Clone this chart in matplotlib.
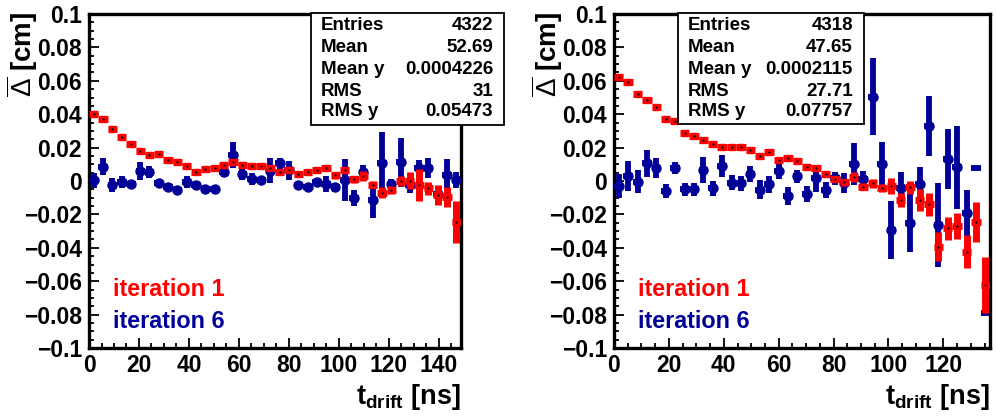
import numpy as np
import matplotlib
matplotlib.use('Agg')
import matplotlib.pyplot as plt
from matplotlib.patches import Rectangle
from matplotlib.ticker import MultipleLocator, FuncFormatter

plt.rcParams['font.family'] = ['Liberation Sans', 'DejaVu Sans']
plt.rcParams['mathtext.fontset'] = 'custom'
plt.rcParams['mathtext.rm'] = 'Liberation Sans'
plt.rcParams['mathtext.bf'] = 'Liberation Sans:bold'
plt.rcParams['mathtext.it'] = 'Liberation Sans:italic'

# --- data (40 bins per panel) ---
left_tmax = 148.8
right_tmax = 137.0
nbins = 40

left_iter1 = [0.0401, 0.0371, 0.0311, 0.0265, 0.0223, 0.0181, 0.0157, 0.0163, 0.0124, 0.0112,
              0.0092, 0.0052, 0.0072, 0.0076, 0.0098, 0.0114, 0.0094, 0.0092, 0.0088, 0.0075,
              0.0056, 0.0063, 0.0043, 0.0053, 0.0063, 0.0076, 0.0034, 0.0066, 0.0010, 0.0030,
              -0.0022, -0.0070, -0.0054, 0.0002, 0.0002, -0.0022, -0.0044, -0.0084, -0.0098, -0.0245]
left_iter1_err = [0.0012]*26 + [0.002, 0.002, 0.002, 0.003, 0.002, 0.0033, 0.0025, 0.003,
                                0.005, 0.0095, 0.004, 0.006, 0.006, 0.0125]
left_iter6 = [0.0004, 0.0086, -0.0024, -0.0008, -0.0016, 0.0058, 0.0052, -0.0010, -0.0036, -0.0054,
              -0.0008, -0.0024, -0.0046, -0.0046, 0.0056, 0.0156, 0.0040, 0.0012, 0.0006, 0.0062,
              0.0105, 0.0063, -0.0024, -0.0037, -0.0005, -0.0018, -0.0038, 0.0006, -0.0104, 0.0056,
              -0.0114, 0.0106, -0.0018, 0.0112, -0.0024, 0.0076, 0.0076, -0.0080, 0.0036, 0.0006]
left_iter6_err = [0.0045, 0.005, 0.0043, 0.0035, 0.002, 0.0055, 0.0035, 0.002, 0.0025, 0.0025,
                  0.0035, 0.0025, 0.0025, 0.0025, 0.0035, 0.008, 0.0035, 0.0035, 0.002, 0.0075,
                  0.0035, 0.0057, 0.002, 0.0025, 0.002, 0.0047, 0.0025, 0.0125, 0.0048, 0.004,
                  0.0105, 0.0185, 0.003, 0.0147, 0.005, 0.005, 0.006, 0.005, 0.0095, 0.005]

right_iter1 = [0.0625, 0.0591, 0.0521, 0.0485, 0.0445, 0.0373, 0.0359, 0.0289, 0.0269, 0.0247,
               0.0223, 0.0202, 0.0202, 0.0202, 0.0186, 0.0150, 0.0176, 0.0125, 0.0137, 0.0117,
               0.0086, 0.0076, 0.0044, 0.0012, -0.0008, 0.0026, -0.0034, -0.0014, -0.0040, -0.0030,
               -0.0114, -0.0038, -0.0114, -0.0140, -0.0393, -0.0283, -0.0270, -0.0423, -0.0244, -0.0623]
right_iter1_err = [0.0012]*23 + [0.002, 0.002, 0.003, 0.002, 0.0025, 0.0025, 0.0045, 0.004,
                                 0.004, 0.0065, 0.007, 0.0085, 0.007, 0.008, 0.01, 0.012, 0.017]
right_iter6 = [-0.0030, 0.0030, -0.0004, 0.0106, 0.0076, -0.0060, 0.0076, -0.0050, -0.0050, 0.0066,
               -0.0044, 0.0090, -0.0010, -0.0014, 0.0042, -0.0052, -0.0019, 0.0059, -0.0090, 0.0028,
               -0.0078, 0.0016, -0.0054, 0.0016, -0.0010, 0.0102, 0.0012, 0.0505, 0.0102, -0.0293,
               -0.0044, -0.0250, -0.0018, 0.0331, -0.0263, 0.0130, 0.0082, -0.0190, 0.0080, -0.0789]
right_iter6_err = [0.007, 0.009, 0.0068, 0.0082, 0.006, 0.0043, 0.0035, 0.004, 0.004, 0.0076,
                   0.0045, 0.0067, 0.0045, 0.0045, 0.005, 0.0055, 0.005, 0.0045, 0.0055, 0.004,
                   0.005, 0.008, 0.005, 0.004, 0.006, 0.0125, 0.005, 0.023, 0.0133, 0.0173,
                   0.01, 0.0177, 0.01, 0.018, 0.025, 0.018, 0.0247, 0.0137, 0.0, 0.0]

stat_names = ['Entries', 'Mean', 'Mean y', 'RMS', 'RMS y']
left_stats = ['4322', '52.69', '0.0004226', '31', '0.05473']
right_stats = ['4318', '47.65', '0.0002115', '27.71', '0.07757']

RED = '#ff0000'
BLUE = '#000099'
W, H = 998, 417

fig = plt.figure(figsize=(9.98, 4.17), dpi=100)


def fy(py):
    return 1 - py / H


def ylab(v, pos):
    if abs(v) < 1e-9:
        return '0'
    return ('%g' % round(v, 3)).replace('-', '\u2212')


def panel(left_px, right_px, tmax, y1, e1, y6, e6, xticks_max, stats, box, off):
    ax = fig.add_axes([left_px / W, fy(348), (right_px - left_px) / W, (348 - 14) / H])
    edges = np.linspace(0, tmax, nbins + 1)
    xc = 0.5 * (edges[1:] + edges[:-1])
    hw = 0.5 * (edges[1] - edges[0])
    y6 = np.array(y6)
    e6 = np.array(e6)
    ax.errorbar(xc, y6, xerr=hw, yerr=e6, fmt='none', ecolor=BLUE, elinewidth=4.2,
                capsize=0, zorder=3)
    has_err = e6 > 0
    ax.plot(xc[has_err], y6[has_err], 'o', color=BLUE, ms=6.5, zorder=3)
    ax.errorbar(xc, y1, xerr=hw, yerr=e1, fmt='none', ecolor=RED, elinewidth=5,
                capsize=0, zorder=4)
    ax.plot(xc, y1, 's', color=RED, ms=4.5, zorder=5)
    ax.plot(xc, y1, '.', color='k', ms=1.2, zorder=6)

    ax.set_xlim(0, tmax)
    ax.set_ylim(-0.1, 0.1)
    ax.set_xticks(np.arange(0, xticks_max + 1, 20))
    ax.xaxis.set_minor_locator(MultipleLocator(5))
    ax.yaxis.set_major_locator(MultipleLocator(0.02))
    ax.yaxis.set_minor_locator(MultipleLocator(0.005))
    ax.yaxis.set_major_formatter(FuncFormatter(ylab))
    ax.tick_params(which='both', direction='in', top=False, right=False, width=1.3,
                   labelsize=16.5)
    ax.tick_params(which='major', length=7)
    ax.tick_params(which='minor', length=3.5)
    ax.tick_params(axis='x', pad=4)
    ax.tick_params(axis='y', pad=5)
    for lb in ax.get_xticklabels() + ax.get_yticklabels():
        lb.set_fontweight('bold')
    for s in ax.spines.values():
        s.set_linewidth(2.4)

    # axis titles
    fig.text(right_px / W, fy(404), r'$\mathbf{t_{drift}}$ [ns]', ha='right', va='baseline',
             fontsize=19.5, fontweight='bold')
    fig.text((22 + off) / W, fy(12), r'$\overline{\Delta}$ [cm]', ha='center', va='top',
             rotation=90, fontsize=20, fontweight='bold')

    # legend texts
    fig.text((113 + off) / W, fy(289), 'iteration 1', color=RED, fontsize=16.8,
             fontweight='bold', va='center')
    fig.text((113 + off) / W, fy(322), 'iteration 6', color=BLUE, fontsize=16.8,
             fontweight='bold', va='center')

    # stats box
    bx0, by0, bx1, by1 = box
    fig.add_artist(Rectangle((bx0 / W, fy(by1)), (bx1 - bx0) / W, (by1 - by0) / H,
                             transform=fig.transFigure, facecolor='white',
                             edgecolor='black', lw=1.3, zorder=10))
    rows = [26, 48, 69.5, 91.5, 112]
    for name, val, ry in zip(stat_names, stats, rows):
        fig.text((bx0 + 10) / W, fy(ry), name, ha='left', va='center', fontsize=13.5,
                 fontweight='bold', zorder=11)
        fig.text((bx1 - 11) / W, fy(ry), val, ha='right', va='center', fontsize=13.5,
                 fontweight='bold', zorder=11)
    return ax


panel(89, 461, left_tmax, left_iter1, left_iter1_err, left_iter6, left_iter6_err,
      140, left_stats, (311, 13, 504, 125), 0)
panel(614, 990, right_tmax, right_iter1, right_iter1_err, right_iter6, right_iter6_err,
      120, right_stats, (678, 13, 864, 124), 525)

fig.savefig('out.png', dpi=100)
